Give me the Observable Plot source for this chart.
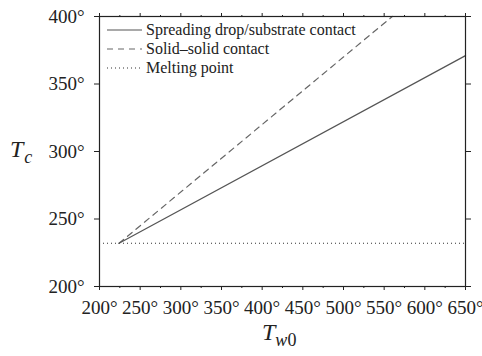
<!DOCTYPE html>
<html>
<head>
<meta charset="utf-8">
<script src="https://cdn.jsdelivr.net/npm/d3@7"></script>
<script src="https://cdn.jsdelivr.net/npm/@observablehq/plot@0.6"></script>
<style>
  html, body { margin: 0; padding: 0; background: #fff; }
</style>
</head>
<body>
<div id="chart"></div>
<script>
// Data
const xMajorTicks = [200, 250, 300, 350, 400, 450, 500, 550, 600, 650];
const xMinorTicks = [225, 275, 325, 375, 425, 475, 525, 575, 625];
const yTicks = [200, 250, 300, 350, 400];
const spreadingX = [224, 650];
const spreadingY = [232, 371];
const solidX = [224, 560];
const solidY = [232, 400];
const meltingPoint = 232;
const legendLabels = ["Spreading drop/substrate contact", "Solid\u2013solid contact", "Melting point"];

const spreading = spreadingX.map((x, i) => ({x, y: spreadingY[i]}));
const solid = solidX.map((x, i) => ({x, y: solidY[i]}));
const deg = d => d + "\u00b0";
const blank = () => "";
const serif = "Liberation Serif";

const svg = Plot.plot({
  width: 482,
  height: 356,
  marginLeft: 99,
  marginRight: 17,
  marginTop: 16,
  marginBottom: 70,
  x: {domain: [200, 650]},
  y: {domain: [200, 400]},
  style: "font-family: 'Liberation Serif', serif; font-size: 19px; color: #222; background: #fff;",
  marks: [
    Plot.axisX({anchor: "bottom", ticks: xMajorTicks, tickSize: 4, tickPadding: 10, tickFormat: deg, label: null, stroke: "#222", fontSize: 19}),
    Plot.axisX({anchor: "bottom", ticks: xMinorTicks, tickSize: 2, tickFormat: blank, label: null, stroke: "#222"}),
    Plot.axisX({anchor: "top", ticks: xMajorTicks, tickSize: 4, tickFormat: blank, label: null, stroke: "#222"}),
    Plot.axisX({anchor: "top", ticks: xMinorTicks, tickSize: 2, tickFormat: blank, label: null, stroke: "#222"}),
    Plot.axisY({anchor: "left", ticks: yTicks, tickSize: 5, tickPadding: 10, tickFormat: deg, label: null, stroke: "#222", fontSize: 19}),
    Plot.axisY({anchor: "right", ticks: yTicks, tickSize: 5, tickFormat: blank, label: null, stroke: "#222"}),
    Plot.ruleY([meltingPoint], {stroke: "#333", strokeWidth: 1.1, strokeDasharray: "1,3"}),
    Plot.line(solid, {x: "x", y: "y", stroke: "#666", strokeWidth: 1.2, strokeDasharray: "6,5"}),
    Plot.line(spreading, {x: "x", y: "y", stroke: "#555", strokeWidth: 1.2}),
    Plot.frame({stroke: "#222", strokeWidth: 1.2})
  ]
});

const s = d3.select(svg);
// Legend
const dashes = [null, "6,5", "1,3"];
const strokes = ["#555", "#666", "#333"];
const lg = s.append("g").attr("font-size", 16).attr("fill", "#222")
  .attr("text-anchor", "start").attr("font-family", serif);
legendLabels.forEach((t, i) => {
  const yy = 30 + i * 19;
  lg.append("line").attr("x1", 107).attr("x2", 142).attr("y1", yy).attr("y2", yy)
    .attr("stroke", strokes[i]).attr("stroke-width", 1.2)
    .attr("stroke-dasharray", dashes[i]);
  lg.append("text").attr("x", 146).attr("y", yy).attr("dy", "0.32em")
    .attr("font-family", serif).text(t);
});

// Axis labels with subscripts
const yl = s.append("text").attr("x", 10).attr("y", 157).attr("font-size", 24)
  .attr("fill", "#222").attr("text-anchor", "start").attr("font-family", serif);
yl.append("tspan").attr("font-style", "italic").text("T");
yl.append("tspan").attr("font-style", "italic").attr("font-size", 18).attr("dx", 1).attr("dy", 6).text("c");

const xl = s.append("text").attr("x", 262).attr("y", 340).attr("font-size", 24)
  .attr("fill", "#222").attr("text-anchor", "start").attr("font-family", serif);
xl.append("tspan").attr("font-style", "italic").text("T");
xl.append("tspan").attr("font-size", 18).attr("dy", 6).attr("font-style", "italic").text("w");
xl.append("tspan").attr("font-size", 18).text("0");

document.getElementById("chart").appendChild(svg);
</script>
</body>
</html>
